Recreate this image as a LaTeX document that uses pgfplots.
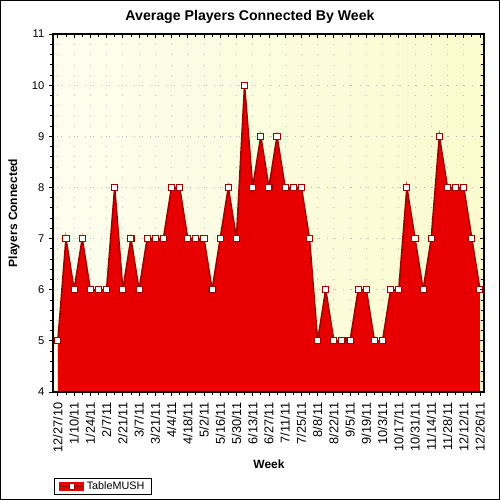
\documentclass[border=0pt]{standalone}
\usepackage{fontspec}
\setmainfont{Liberation Sans}
\usepackage{pgfplots}
\pgfplotsset{compat=1.18}
\usepackage{pgfplotstable}
\definecolor{fillred}{RGB}{232,0,0}
\definecolor{linered}{RGB}{165,0,0}
\definecolor{bgA}{RGB}{254,254,240}
\definecolor{bgB}{RGB}{251,251,206}
\pgfplotstableread{
x y
0 5
1 7
2 6
3 7
4 6
5 6
6 6
7 8
8 6
9 7
10 6
11 7
12 7
13 7
14 8
15 8
16 7
17 7
18 7
19 6
20 7
21 8
22 7
23 10
24 8
25 9
26 8
27 9
28 8
29 8
30 8
31 7
32 5
33 6
34 5
35 5
36 5
37 6
38 6
39 5
40 5
41 6
42 6
43 8
44 7
45 6
46 7
47 9
48 8
49 8
50 8
51 7
52 6
}\datatable
\begin{document}
\begin{tikzpicture}
\path[use as bounding box] (0,0) rectangle (375pt,375pt);
\fill[white] (0,0) rectangle (375pt,375pt);
\begin{axis}[
  at={(39.75pt,81pt)}, anchor=south west,
  scale only axis, width=323.25pt, height=268.5pt,
  xmin=-0.6, xmax=52.5, ymin=4, ymax=11,
  axis background/.style={left color=bgA, right color=bgB},
  xtick={0,2,...,52},
  xticklabels={12/27/10,1/10/11,1/24/11,2/7/11,2/21/11,3/7/11,3/21/11,4/4/11,4/18/11,5/2/11,5/16/11,5/30/11,6/13/11,6/27/11,7/11/11,7/25/11,8/8/11,8/22/11,9/5/11,9/19/11,10/3/11,10/17/11,10/31/11,11/14/11,11/28/11,12/12/11,12/26/11},
  minor x tick num=1,
  ytick={4,5,...,11},
  minor y tick num=4,
  xtick pos=left, ytick pos=left,
  tick align=outside,
  major tick length=3pt, minor tick length=2pt,
  tick style={black, line width=0.6pt},
  axis line style={black, line width=0.8pt},
  /pgf/number format/assume math mode=true,
  x tick label style={rotate=90, anchor=east, font=\fontsize{9.6}{10}\selectfont},
  xticklabel shift=1.5pt,
  y tick label style={font=\fontsize{8.4}{10}\selectfont},
  xmajorgrids, ymajorgrids,
  x grid style={gray!55, line width=0.6pt, dash pattern=on 0.75pt off 6.9pt},
  y grid style={gray!55, line width=0.6pt, dash pattern=on 0.75pt off 5.3pt},
  legend style={at={(0.0023,-0.2402)}, anchor=north west, draw=black, line width=0.8pt,
    font=\fontsize{8.1}{9}\selectfont, inner xsep=3pt, inner ysep=0.3pt, row sep=0pt},
  legend cell align=left,
]
\addplot[draw=none, fill=fillred, forget plot] table[x=x,y=y] {\datatable} \closedcycle;
\addplot[draw=linered, line width=1.2pt, mark=square*, mark size=2.3pt,
  mark options={fill=white, draw=linered, line width=0.8pt},
  legend image code/.code={
    \fill[fillred] (0pt,-2.6pt) rectangle (18pt,2.6pt);
    \draw[linered, line width=1.2pt] (0pt,0pt) -- (18pt,0pt);
    \draw[linered, fill=white, line width=0.6pt] (7.5pt,-2pt) rectangle (11.5pt,2pt);
  }] table[x=x,y=y] {\datatable};
\addlegendentry{TableMUSH}
\end{axis}
\begin{axis}[
  at={(39.75pt,81pt)}, anchor=south west,
  scale only axis, width=323.25pt, height=268.5pt,
  xmin=-0.6, xmax=52.5, ymin=4, ymax=11,
  xtick={0,2,...,52}, minor x tick num=1,
  ytick={4,5,...,11}, minor y tick num=4,
  xtick pos=right, ytick pos=right,
  tick align=inside,
  major tick length=3pt, minor tick length=2pt,
  tick style={black, line width=0.6pt},
  axis line style={black, line width=0.8pt},
  xticklabels={}, yticklabels={},
]
\end{axis}
\node[font=\fontsize{10.6}{12}\bfseries] at (187.5pt,362.25pt) {Average Players Connected By Week};
\node[font=\fontsize{9}{11}\bfseries, rotate=90] at (10.5pt,215.25pt) {Players Connected};
\node[font=\fontsize{9}{11}\bfseries] at (201.75pt,27pt) {Week};
\draw[black, line width=0.8pt] (0.4pt,0.4pt) rectangle (374.6pt,374.6pt);
\end{tikzpicture}
\end{document}
